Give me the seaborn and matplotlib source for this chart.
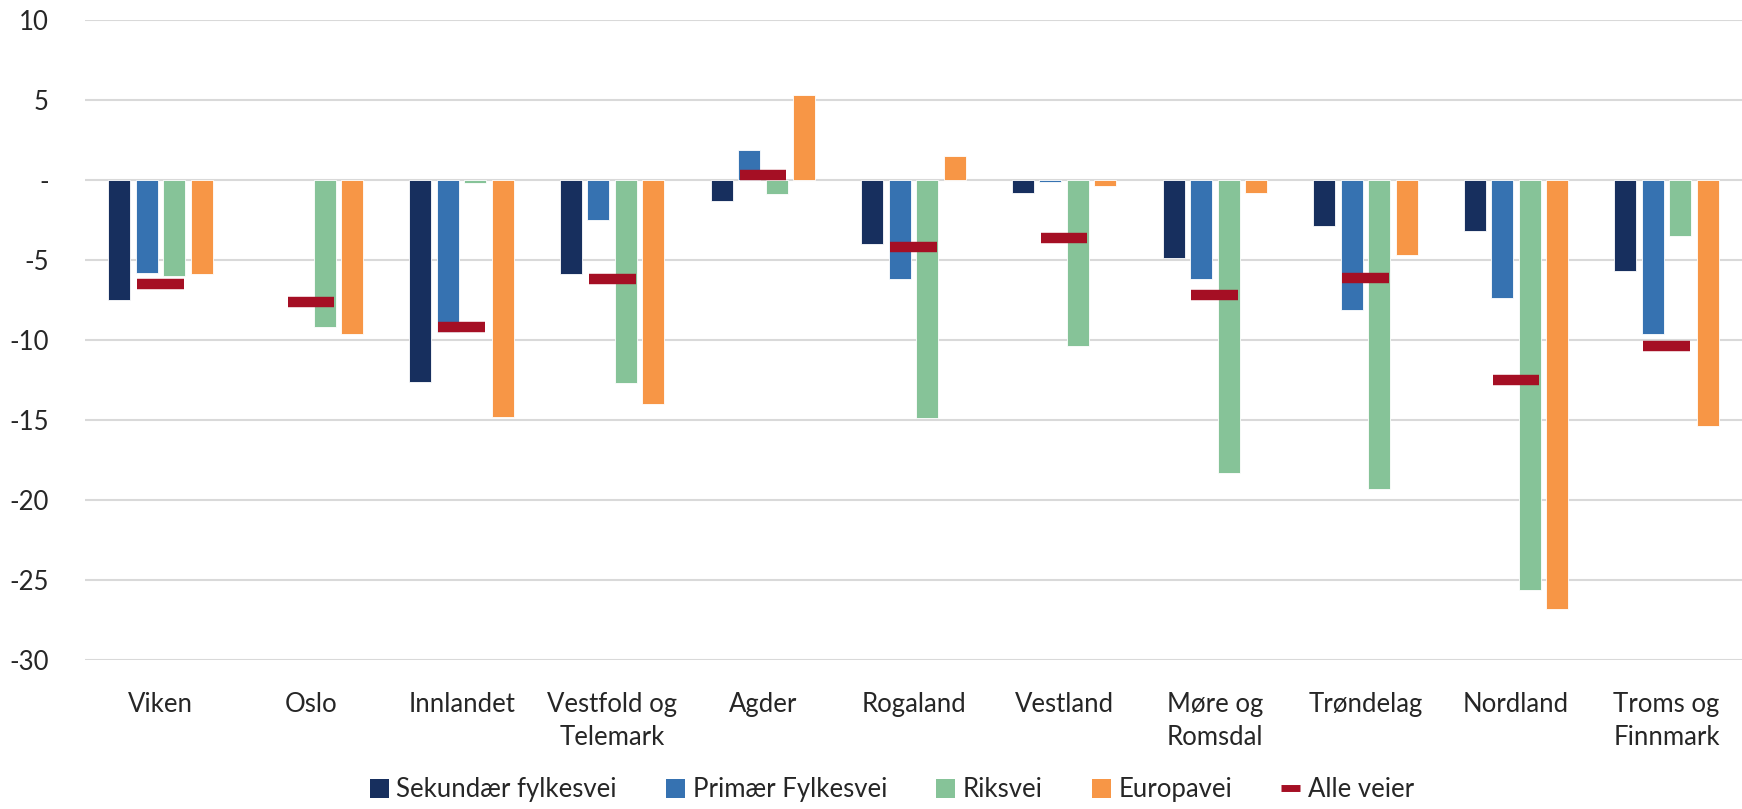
import numpy as np
import pandas as pd
import matplotlib
matplotlib.use("Agg")
import matplotlib.pyplot as plt
from matplotlib.patches import Patch
from matplotlib.lines import Line2D
import seaborn as sns

fylker = ["Viken", "Oslo", "Innlandet", "Vestfold og\nTelemark", "Agder", "Rogaland",
          "Vestland", "Møre og\nRomsdal", "Trøndelag", "Nordland", "Troms og\nFinnmark"]
sekundaer = [-7.5, np.nan, -12.6, -5.9, -1.3, -4.0, -0.8, -4.9, -2.9, -3.2, -5.7]
primaer = [-5.8, np.nan, -9.5, -2.5, 1.9, -6.2, -0.1, -6.2, -8.1, -7.4, -9.6]
riksvei = [-6.0, -9.2, -0.2, -12.7, -0.9, -14.9, -10.4, -18.3, -19.3, -25.6, -3.5]
europavei = [-5.9, -9.6, -14.8, -14.0, 5.3, 1.5, -0.4, -0.8, -4.7, -26.8, -15.4]
alle_veier = [-6.5, -7.6, -9.2, -6.2, 0.3, -4.2, -3.6, -7.2, -6.1, -12.5, -10.4]

series = ["Sekundær fylkesvei", "Primær Fylkesvei", "Riksvei", "Europavei"]
colors = ["#172F5E", "#3672B1", "#86C398", "#F79646"]
alle_color = "#A50F24"
yticks = [10, 5, 0, -5, -10, -15, -20, -25, -30]
ytick_labels = ["10", "5", "-", "-5", "-10", "-15", "-20", "-25", "-30"]

df = pd.DataFrame({
    "fylke": fylker * 4,
    "vei": np.repeat(series, len(fylker)),
    "verdi": sekundaer + primaer + riksvei + europavei,
}).dropna()

sns.set_style("white")
plt.rcParams["font.family"] = ["Lato", "DejaVu Sans"]
text_color = "#262626"

fig = plt.figure(figsize=(17.42, 8.09), dpi=100)
ax = fig.add_axes([85 / 1742, 1 - 660 / 809, 1 - 85 / 1742, 640 / 809])

sns.barplot(data=df, x="fylke", y="verdi", hue="vei", order=fylker, hue_order=series,
            palette=colors, saturation=1, width=0.73, gap=0.2, errorbar=None, ax=ax,
            edgecolor="white", linewidth=0.6, zorder=2)

xpos = np.arange(len(fylker))
ax.hlines(alle_veier, xpos - 0.155, xpos + 0.155, color=alle_color, lw=7.5, zorder=3)

ax.set_ylim(-30, 10)
ax.set_xlim(-0.5, len(fylker) - 0.5)
ax.set_yticks(yticks)
ax.set_yticklabels(ytick_labels)
ax.yaxis.grid(True, color="#D9D9D9", lw=1.5, zorder=0)
ax.set_axisbelow(True)
ax.tick_params(axis="y", length=0, pad=26, labelsize=18.5, labelcolor=text_color)
ax.tick_params(axis="x", length=0, pad=23, labelsize=18.5, labelcolor=text_color)
for lbl in ax.get_xticklabels():
    lbl.set_linespacing(1.4)
ax.set_xlabel("")
ax.set_ylabel("")
sns.despine(ax=ax, left=True, bottom=True)

ax.get_legend().remove()
handles = [Patch(facecolor=c, edgecolor="none") for c in colors]
handles.append(Line2D([0], [0], color=alle_color, lw=5, solid_capstyle="butt"))
fig.legend(handles, series + ["Alle veier"], loc="lower center", ncol=5,
           bbox_to_anchor=(0.512, -0.02), frameon=False, fontsize=18.5,
           handlelength=0.75, handleheight=0.75, handletextpad=0.3,
           columnspacing=1.9, labelcolor=text_color)

plt.savefig("out.png", dpi=100)
plt.close()
